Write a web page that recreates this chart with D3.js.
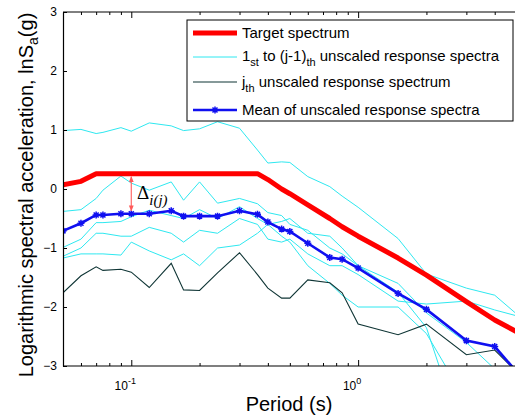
<!DOCTYPE html>
<html><head><meta charset="utf-8">
<script src="https://cdn.jsdelivr.net/npm/d3@7"></script>
<style>body{margin:0;background:#fff}svg{display:block}</style>
</head><body><svg id="c" width="515" height="416" font-family="Liberation Sans, Arial, sans-serif"></svg>
<script>
const periods = [0.05,0.06,0.07,0.075,0.09,0.1,0.12,0.15,0.17,0.2,0.24,0.3,0.36,0.4,0.46,0.5,0.6,0.75,0.85,1.0,1.5,2.0,3.0,4.0,5.0];
const target = [0.07,0.13,0.26,0.26,0.26,0.26,0.26,0.26,0.26,0.26,0.26,0.26,0.26,0.16,0.0,-0.08,-0.27,-0.5,-0.64,-0.8,-1.17,-1.46,-1.91,-2.22,-2.42];
const meanSpec = [-0.71,-0.58,-0.44,-0.44,-0.42,-0.42,-0.42,-0.37,-0.46,-0.46,-0.46,-0.37,-0.43,-0.56,-0.68,-0.72,-0.92,-1.16,-1.19,-1.34,-1.77,-2.04,-2.57,-2.67,-3.1];
const jthSpec = [-1.76,-1.47,-1.32,-1.38,-1.36,-1.41,-1.67,-1.26,-1.71,-1.72,-1.42,-1.08,-1.45,-1.68,-1.85,-1.85,-1.54,-1.59,-1.76,-2.29,-2.47,-2.29,-2.81,-2.73,-3.1];
const cyan1 = [0.99,1.01,0.94,0.96,1.04,0.98,1.12,1.07,0.99,1.02,1.14,1.03,0.66,0.44,0.46,0.45,0.21,0.04,-0.12,-0.31,-0.84,-1.44,-1.68,-1.80,-2.12];
const cyan2 = [-0.38,-0.35,-0.16,-0.02,0.22,0.10,-0.02,0.12,-0.19,0.12,-0.24,-0.16,-0.25,-0.40,-0.45,-0.60,-0.70,-1.0,-1.1,-1.3,-1.75,-2.35,-4.4,-4.5,-4.6];
const cyan3 = [-0.99,-0.85,-0.57,-0.57,-0.55,-0.47,-0.36,-0.45,-0.50,-0.35,-0.5,-0.3,-0.5,-0.6,-0.55,-0.5,-0.75,-0.8,-1.0,-1.3,-1.6,-2.1,-2.6,-3.05,-3.4];
const cyan4 = [-1.14,-1.0,-0.75,-0.75,-0.8,-0.8,-0.65,-0.75,-0.9,-0.7,-0.75,-0.5,-0.6,-0.85,-0.9,-0.85,-1.1,-1.3,-1.3,-1.45,-1.9,-1.95,-1.9,-2.05,-2.15];
const cyan5 = [-1.17,-1.1,-1.1,-1.1,-1.12,-0.9,-1.05,-1.2,-1.1,-1.3,-1.0,-0.95,-0.75,-0.6,-0.8,-0.9,-1.3,-1.6,-1.8,-2.0,-2.0,-2.45,-3.6,-3.8,-3.9];
const cyanList = [cyan1,cyan2,cyan3,cyan4,cyan5];
const yTicks = [-3,-2,-1,0,1,2,3];
const xMinor = [0.06,0.07,0.08,0.09,0.2,0.3,0.4,0.5,0.6,0.7,0.8,0.9,2,3,4];
const xMajor = [0.1,1];
const xMajorExp = ["-1","0"];
const legendLabels = ["Target spectrum","1st to (j-1)th unscaled response spectra","jth unscaled response spectrum","Mean of unscaled response spectra"];

const svg = d3.select("#c");
const L=63, R=516.7, T=12, B=366;
const x = d3.scaleLog().domain([0.05,5]).range([L,R]);
const y = d3.scaleLinear().domain([-3,3]).range([B,T]);

const defs = svg.append("defs");
defs.append("clipPath").attr("id","clip").append("rect")
  .attr("x",L).attr("y",T).attr("width",515-L).attr("height",B-T);

const line = d3.line().x((d,i)=>x(periods[i])).y(d=>y(d));
const plot = svg.append("g").attr("clip-path","url(#clip)");

cyanList.forEach(s=>plot.append("path").attr("d",line(s)).attr("fill","none").attr("stroke","#2ee8f0").attr("stroke-width",1));
plot.append("path").attr("d",line(jthSpec)).attr("fill","none").attr("stroke","#0f3535").attr("stroke-width",1.1);
plot.append("path").attr("d",line(target)).attr("fill","none").attr("stroke","#ff0000").attr("stroke-width",5).attr("stroke-linejoin","round");
plot.append("path").attr("d",line(meanSpec)).attr("fill","none").attr("stroke","#1010f0").attr("stroke-width",2.6);
const star = "M-3.5,0L3.5,0M0,-3.5L0,3.5M-2.5,-2.5L2.5,2.5M-2.5,2.5L2.5,-2.5";
plot.selectAll(".mk").data(meanSpec).enter().append("path")
  .attr("transform",(d,i)=>`translate(${x(periods[i])},${y(d)})`)
  .attr("d",star).attr("stroke","#1010f0").attr("stroke-width",1.5).attr("fill","none");

// axes
const gl = svg.append("g").attr("transform",`translate(${L},0)`)
  .call(d3.axisLeft(y).tickValues(yTicks).tickSize(-4).tickSizeOuter(0).tickPadding(6).tickFormat(d3.format("d")));
gl.select(".domain").attr("stroke-width",1.2);
gl.selectAll("text").attr("font-size",12).attr("font-family","Liberation Sans, Arial");
const gb = svg.append("g").attr("transform",`translate(0,${B})`)
  .call(d3.axisBottom(x).tickValues(xMinor).tickSize(-3).tickSizeOuter(0).tickFormat(""));
gb.select(".domain").attr("d",`M${L},0H515`).attr("stroke-width",1.2);
const gb2 = svg.append("g").attr("transform",`translate(0,${B})`)
  .call(d3.axisBottom(x).tickValues(xMajor).tickSize(-6).tickSizeOuter(0).tickFormat(""));
gb2.select(".domain").remove();
const gt = svg.append("g").attr("transform",`translate(0,${T})`)
  .call(d3.axisTop(x).tickValues(xMinor).tickSize(-3).tickSizeOuter(0).tickFormat(""));
gt.select(".domain").attr("d",`M${L},0H515`).attr("stroke-width",1);
const gt2 = svg.append("g").attr("transform",`translate(0,${T})`)
  .call(d3.axisTop(x).tickValues(xMajor).tickSize(-6).tickSizeOuter(0).tickFormat(""));
gt2.select(".domain").remove();

xMajor.forEach((v,i)=>{
  const t = svg.append("text").attr("x",x(v)-6).attr("y",390).attr("text-anchor","middle").attr("font-size",12);
  t.append("tspan").text("10");
  t.append("tspan").attr("dy",-6).attr("font-size",9).text(xMajorExp[i]);
});
svg.append("text").attr("x",289).attr("y",411).attr("text-anchor","middle").attr("font-size",20).text("Period (s)");
const yl = svg.append("text").attr("transform","translate(33,195) rotate(-90)").attr("text-anchor","middle").attr("font-size",20);
yl.append("tspan").text("Logarithmic spectral acceleration, lnS");
yl.append("tspan").attr("dy",5).attr("font-size",14).text("a");
yl.append("tspan").attr("dy",-5).text("(g)");

// delta annotation
defs.append("marker").attr("id","ah").attr("viewBox","0 0 10 10").attr("refX",9).attr("refY",5)
  .attr("markerWidth",5).attr("markerHeight",5).attr("orient","auto-start-reverse")
  .append("path").attr("d","M0,1L10,5L0,9z").attr("fill","#ff5a5a");
svg.append("line").attr("x1",x(0.1)).attr("x2",x(0.1)).attr("y1",y(target[5])+3).attr("y2",y(meanSpec[5])-3)
  .attr("stroke","#ff6a6a").attr("stroke-width",1.2).attr("marker-start","url(#ah)").attr("marker-end","url(#ah)");
const dt = svg.append("text").attr("x",137).attr("y",199).attr("font-family","Liberation Serif, Times New Roman, serif").attr("font-size",19);
dt.append("tspan").text("Δ");
dt.append("tspan").attr("dy",6).attr("font-size",15).attr("font-style","italic").text("i(j)");

// legend
const lg = svg.append("g");
lg.append("rect").attr("x",187).attr("y",20).attr("width",326).attr("height",101).attr("fill","#fff").attr("stroke","#000").attr("stroke-width",1);
const rowsY=[33,57,82,110];
lg.append("line").attr("x1",193).attr("x2",237).attr("y1",rowsY[0]).attr("y2",rowsY[0]).attr("stroke","#f00").attr("stroke-width",5);
lg.append("line").attr("x1",193).attr("x2",237).attr("y1",rowsY[1]).attr("y2",rowsY[1]).attr("stroke","#2ee8f0").attr("stroke-width",1);
lg.append("line").attr("x1",193).attr("x2",237).attr("y1",rowsY[2]).attr("y2",rowsY[2]).attr("stroke","#0f3535").attr("stroke-width",1.1);
lg.append("line").attr("x1",193).attr("x2",237).attr("y1",rowsY[3]).attr("y2",rowsY[3]).attr("stroke","#1010f0").attr("stroke-width",2.6);
lg.append("path").attr("transform",`translate(215,${rowsY[3]})`).attr("d",star).attr("stroke","#1010f0").attr("stroke-width",1.5);
const fs=15;
lg.append("text").attr("x",242).attr("y",38).attr("font-size",fs).text(legendLabels[0]);
const t2 = lg.append("text").attr("x",242).attr("y",61).attr("font-size",fs);
t2.append("tspan").text("1");
t2.append("tspan").attr("dy",5).attr("font-size",11).text("st");
t2.append("tspan").attr("dy",-5).text(" to (j-1)");
t2.append("tspan").attr("dy",5).attr("font-size",11).text("th");
t2.append("tspan").attr("dy",-5).text(" unscaled response spectra");
const t3 = lg.append("text").attr("x",242).attr("y",87).attr("font-size",fs);
t3.append("tspan").text("j");
t3.append("tspan").attr("dy",5).attr("font-size",11).text("th");
t3.append("tspan").attr("dy",-5).text(" unscaled response spectrum");
lg.append("text").attr("x",242).attr("y",115).attr("font-size",fs).text(legendLabels[3]);
</script></body></html>
